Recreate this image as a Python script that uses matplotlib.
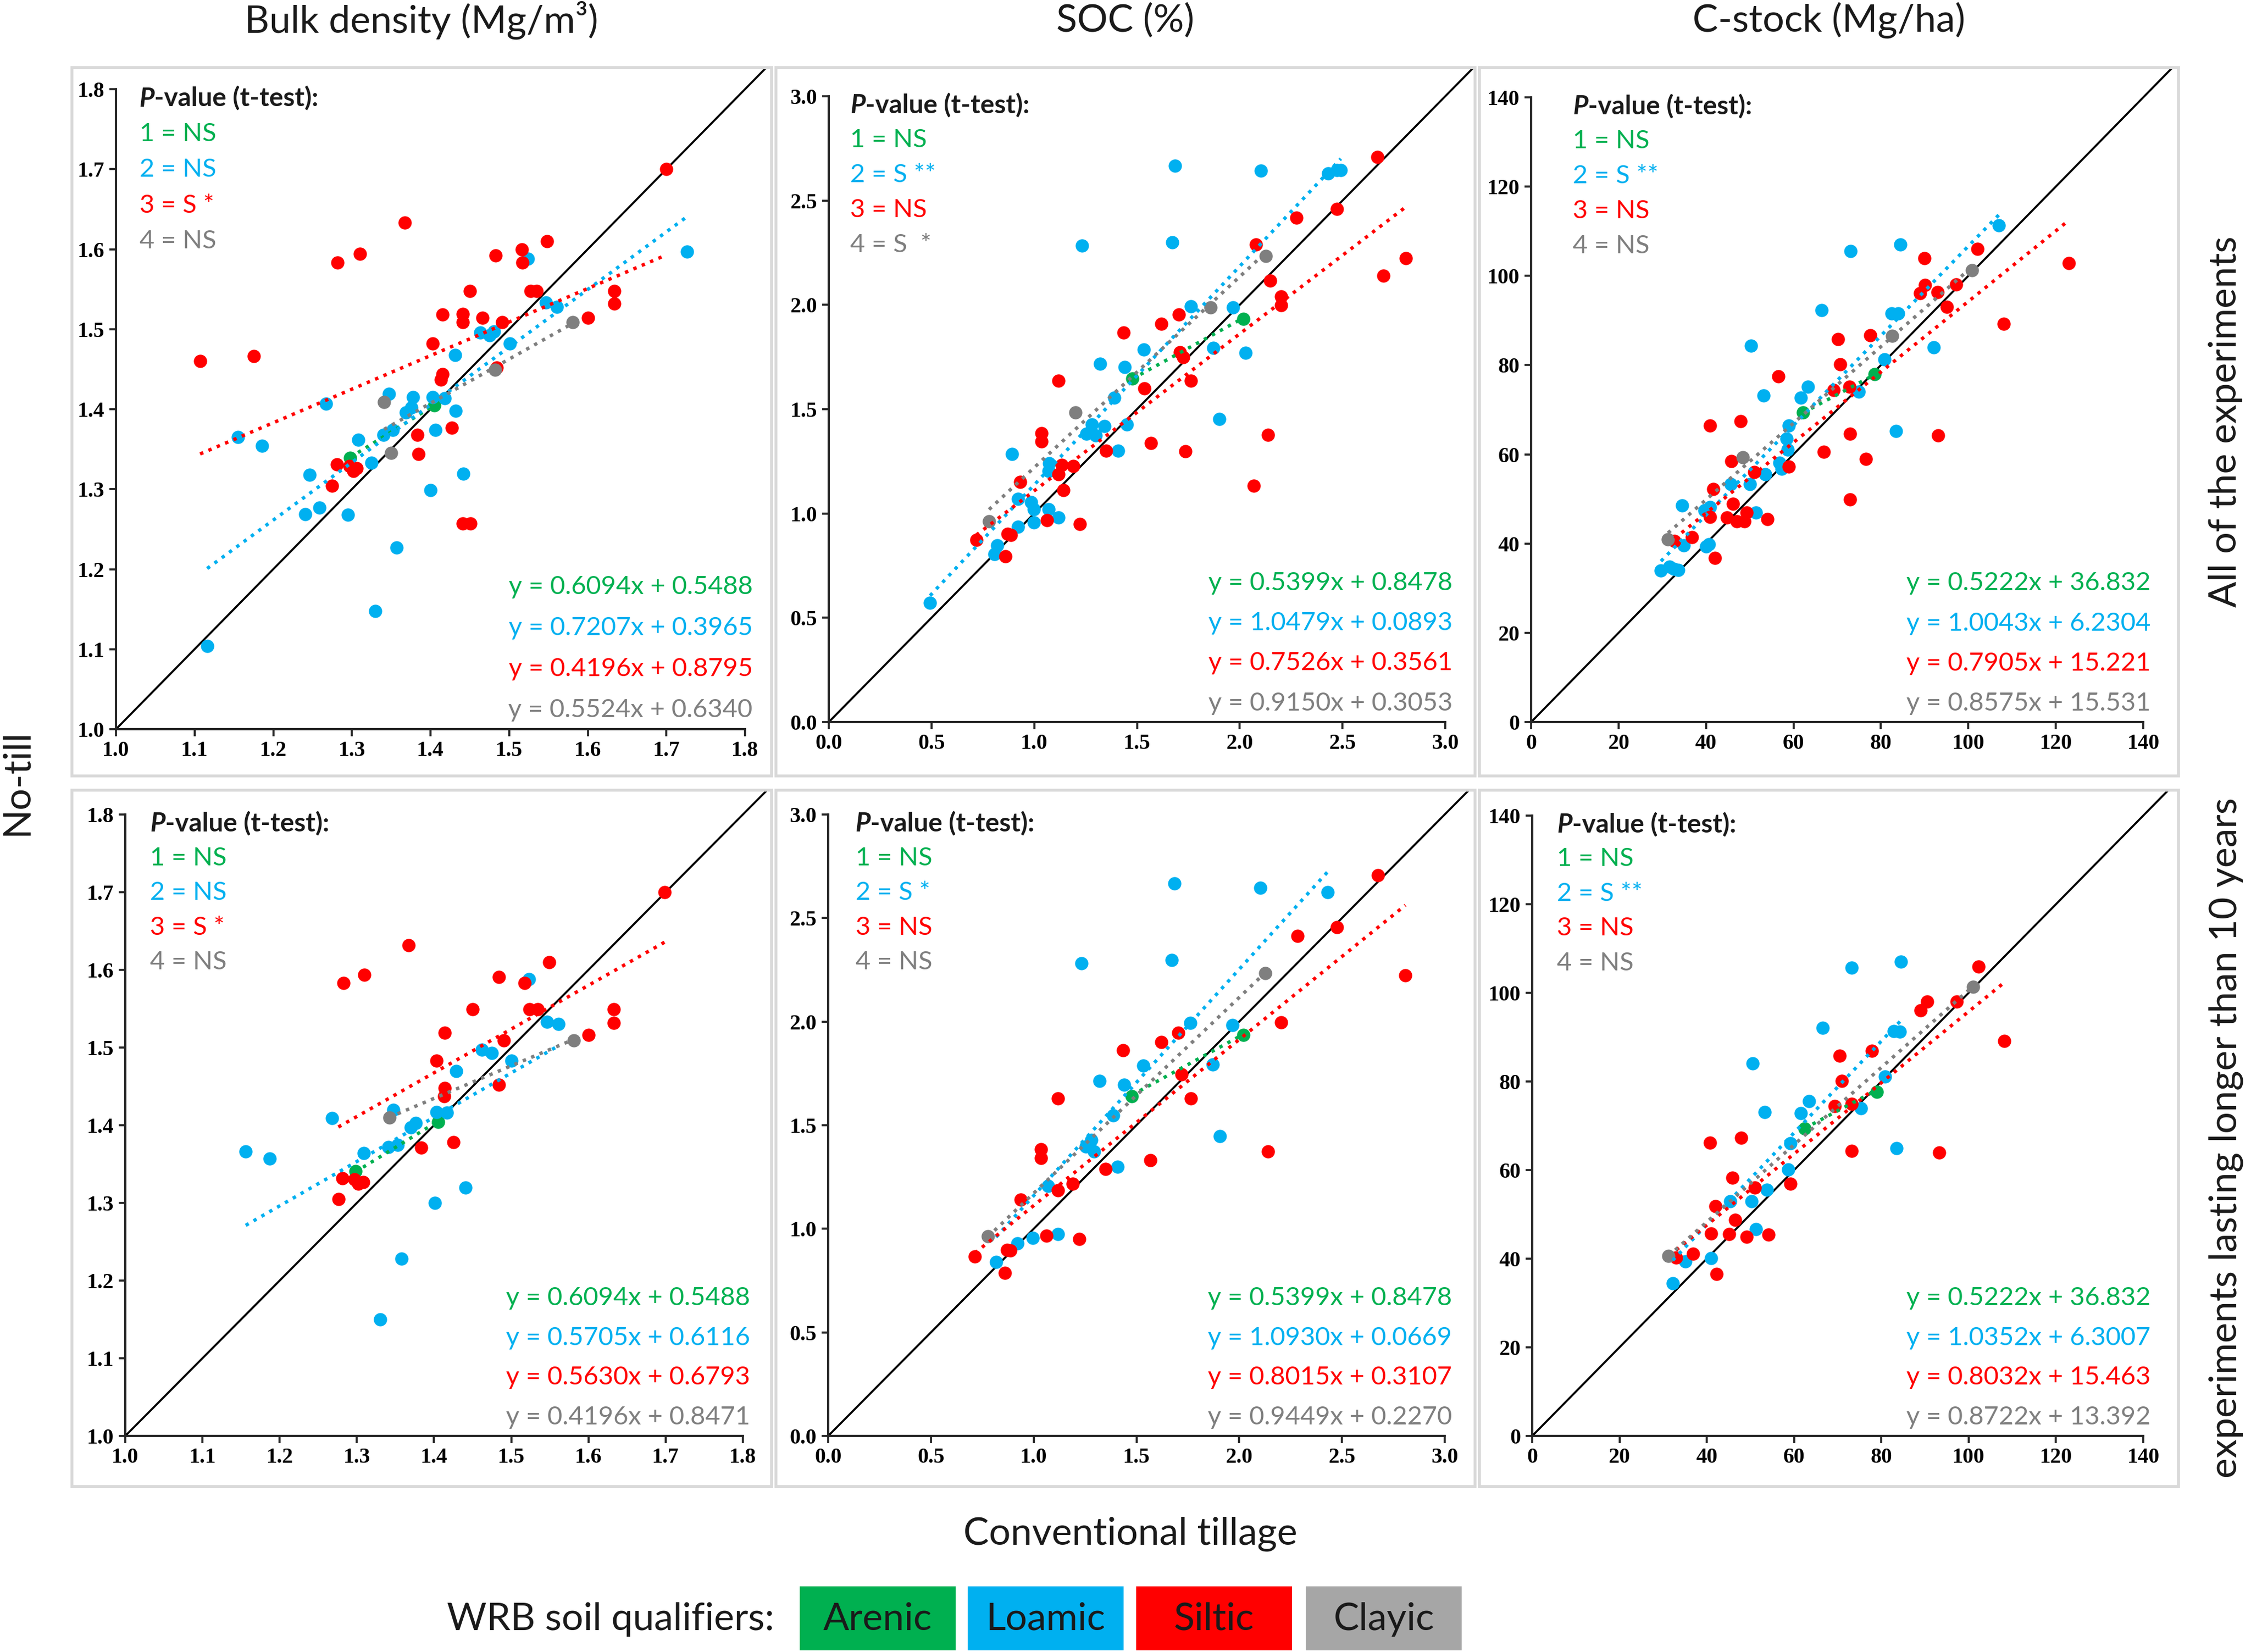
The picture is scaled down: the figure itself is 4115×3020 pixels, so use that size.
import matplotlib
matplotlib.use("Agg")
import matplotlib.pyplot as plt
from matplotlib.patches import Rectangle

W, H = 4115, 3020
DPI = 300

GROUP_COLORS = ["#00B050", "#00B0F0", "#FF0000", "#7F7F7F"]
LEGEND_COLORS = ["#00B050", "#00B0F0", "#FF0000", "#A6A6A6"]
GROUP_NAMES = ["Arenic", "Loamic", "Siltic", "Clayic"]

COL_TITLES = ["Bulk density (Mg/m³)", "SOC (%)", "C-stock (Mg/ha)"]
ROW_TITLES = ["All of the experiments", "experiments lasting longer than 10 years"]

# (conventional tillage, no-till) pairs
BD_ALL_ARENIC = [(1.298, 1.339), (1.405, 1.405)]
BD_ALL_LOAMIC = [(1.116, 1.104), (1.155, 1.365), (1.186, 1.354), (1.267, 1.407), (1.246, 1.318),
                 (1.241, 1.269), (1.259, 1.277), (1.295, 1.268), (1.308, 1.362), (1.325, 1.333),
                 (1.330, 1.148), (1.357, 1.227), (1.347, 1.419), (1.340, 1.368), (1.352, 1.374),
                 (1.369, 1.396), (1.376, 1.402), (1.378, 1.415), (1.403, 1.415), (1.418, 1.414),
                 (1.406, 1.374), (1.400, 1.299), (1.432, 1.398), (1.431, 1.468), (1.442, 1.319),
                 (1.463, 1.496), (1.475, 1.492), (1.481, 1.497), (1.501, 1.482), (1.524, 1.588),
                 (1.547, 1.533), (1.561, 1.528), (1.726, 1.597)]
BD_ALL_SILTIC = [(1.107, 1.460), (1.175, 1.466), (1.282, 1.583), (1.310, 1.594), (1.367, 1.633),
                 (1.700, 1.700), (1.516, 1.600), (1.548, 1.610), (1.483, 1.592), (1.517, 1.583),
                 (1.450, 1.548), (1.527, 1.548), (1.535, 1.548), (1.634, 1.548), (1.634, 1.532),
                 (1.600, 1.514), (1.415, 1.518), (1.441, 1.519), (1.441, 1.509), (1.466, 1.514),
                 (1.491, 1.509), (1.403, 1.482), (1.415, 1.444), (1.413, 1.437), (1.484, 1.452),
                 (1.427, 1.377), (1.383, 1.368), (1.385, 1.344), (1.281, 1.331), (1.297, 1.329),
                 (1.302, 1.323), (1.306, 1.326), (1.275, 1.304), (1.441, 1.257), (1.451, 1.257)]
BD_ALL_CLAYIC = [(1.341, 1.409), (1.350, 1.345), (1.482, 1.449), (1.581, 1.509)]

BD_LONG_ARENIC = [(1.298, 1.341), (1.405, 1.404)]
BD_LONG_LOAMIC = [(1.156, 1.366), (1.187, 1.357), (1.268, 1.409), (1.309, 1.364), (1.347, 1.420),
                  (1.341, 1.372), (1.353, 1.375), (1.370, 1.397), (1.376, 1.403), (1.403, 1.417),
                  (1.417, 1.416), (1.429, 1.470), (1.401, 1.300), (1.441, 1.320), (1.358, 1.228),
                  (1.330, 1.150), (1.462, 1.497), (1.475, 1.493), (1.500, 1.483), (1.523, 1.588),
                  (1.546, 1.533), (1.561, 1.530)]
BD_LONG_SILTIC = [(1.283, 1.583), (1.310, 1.594), (1.367, 1.632), (1.699, 1.700), (1.549, 1.610),
                  (1.484, 1.591), (1.517, 1.583), (1.450, 1.549), (1.524, 1.549), (1.534, 1.549),
                  (1.633, 1.549), (1.633, 1.532), (1.600, 1.516), (1.414, 1.519), (1.490, 1.509),
                  (1.403, 1.483), (1.414, 1.448), (1.413, 1.437), (1.484, 1.452), (1.425, 1.378),
                  (1.383, 1.371), (1.281, 1.332), (1.297, 1.330), (1.302, 1.325), (1.308, 1.327),
                  (1.276, 1.305)]
BD_LONG_CLAYIC = [(1.342, 1.410), (1.581, 1.509)]

SOC_ALL_ARENIC = [(1.478, 1.647), (2.017, 1.934)]
SOC_ALL_LOAMIC = [(0.493, 0.572), (0.806, 0.805), (0.821, 0.848), (0.893, 1.286), (0.920, 0.935),
                  (0.920, 1.071), (0.985, 1.053), (0.998, 1.021), (0.998, 0.956), (1.069, 1.021),
                  (1.119, 0.982), (1.073, 1.241), (1.069, 1.204), (1.233, 2.284), (1.320, 1.718),
                  (1.255, 1.381), (1.281, 1.427), (1.298, 1.373), (1.342, 1.420), (1.390, 1.554),
                  (1.441, 1.701), (1.452, 1.427), (1.408, 1.302), (1.533, 1.787), (1.686, 2.666),
                  (1.671, 2.299), (1.763, 1.992), (1.872, 1.794), (1.901, 1.453), (1.966, 1.988),
                  (2.028, 1.770), (2.102, 2.644), (2.430, 2.629), (2.474, 2.646), (2.492, 2.646)]
SOC_ALL_SILTIC = [(0.718, 0.874), (0.871, 0.902), (0.887, 0.898), (0.861, 0.794), (0.933, 1.150),
                  (1.036, 1.384), (1.036, 1.345), (1.062, 0.967), (1.119, 1.636), (1.117, 1.187),
                  (1.134, 1.232), (1.141, 1.112), (1.189, 1.226), (1.222, 0.950), (1.349, 1.302),
                  (1.436, 1.867), (1.535, 1.599), (1.568, 1.338), (1.618, 1.910), (1.704, 1.953),
                  (1.708, 1.772), (1.725, 1.750), (1.736, 1.297), (1.763, 1.636), (2.069, 1.133),
                  (2.080, 2.290), (2.137, 1.377), (2.148, 2.117), (2.201, 2.040), (2.201, 1.997),
                  (2.277, 2.417), (2.474, 2.461), (2.671, 2.709), (2.700, 2.139), (2.809, 2.225)]
SOC_ALL_CLAYIC = [(0.780, 0.963), (1.200, 1.485), (1.857, 1.988), (2.126, 2.234)]

SOC_LONG_ARENIC = [(1.478, 1.641), (2.021, 1.935)]
SOC_LONG_LOAMIC = [(0.817, 0.841), (0.920, 0.930), (0.996, 0.957), (1.119, 0.974), (1.069, 1.207),
                   (1.233, 2.283), (1.320, 1.713), (1.255, 1.396), (1.281, 1.428), (1.294, 1.374),
                   (1.386, 1.548), (1.441, 1.696), (1.408, 1.300), (1.533, 1.787), (1.686, 2.667),
                   (1.671, 2.298), (1.763, 1.993), (1.872, 1.793), (1.905, 1.446), (1.966, 1.983),
                   (2.102, 2.646), (2.430, 2.624)]
SOC_LONG_SILTIC = [(0.714, 0.865), (0.871, 0.898), (0.887, 0.896), (0.861, 0.787), (0.937, 1.141),
                   (1.036, 1.385), (1.036, 1.341), (1.062, 0.967), (1.119, 1.630), (1.117, 1.185),
                   (1.189, 1.217), (1.222, 0.950), (1.349, 1.289), (1.436, 1.863), (1.568, 1.330),
                   (1.622, 1.902), (1.704, 1.946), (1.719, 1.746), (1.765, 1.630), (2.141, 1.374),
                   (2.203, 1.996), (2.284, 2.413), (2.476, 2.457), (2.674, 2.707), (2.809, 2.224)]
SOC_LONG_CLAYIC = [(0.777, 0.963), (2.126, 2.233)]

C_ALL_ARENIC = [(62.2, 69.4), (78.6, 78.0)]
C_ALL_LOAMIC = [(29.7, 33.9), (31.6, 34.8), (32.6, 34.3), (33.7, 34.1), (34.5, 48.5), (34.9, 39.6),
                (40.0, 39.3), (40.6, 39.9), (39.6, 47.4), (40.9, 48.2), (45.7, 53.3), (50.3, 84.3),
                (50.1, 53.3), (51.4, 46.9), (53.2, 73.2), (53.5, 55.5), (56.8, 58.1), (57.3, 56.8),
                (58.4, 63.5), (58.7, 61.1), (58.9, 66.4), (61.7, 72.7), (63.3, 75.2), (66.4, 92.3),
                (73.1, 105.5), (75.0, 74.1), (80.8, 81.3), (82.4, 91.6), (83.9, 91.6), (83.4, 65.2),
                (84.4, 107.0), (92.1, 84.0), (107.0, 111.3)]
C_ALL_SILTIC = [(32.8, 40.6), (36.8, 41.4), (40.9, 66.4), (40.9, 46.0), (41.6, 52.2), (42.1, 36.8),
                (44.8, 45.9), (45.8, 58.5), (46.2, 48.9), (47.0, 45.0), (47.9, 67.4), (48.8, 45.0),
                (49.3, 46.9), (51.0, 56.0), (54.0, 45.5), (56.6, 77.5), (58.9, 57.3), (66.9, 60.5),
                (69.2, 74.4), (70.2, 85.8), (70.7, 80.2), (72.8, 75.2), (73.0, 64.6), (73.0, 49.9),
                (76.6, 59.0), (77.6, 86.7), (89.0, 96.1), (90.0, 103.9), (90.1, 98.0), (92.9, 96.3),
                (93.1, 64.2), (95.1, 93.1), (97.2, 98.1), (102.1, 106.0), (108.1, 89.3), (123.0, 102.9)]
C_ALL_CLAYIC = [(31.3, 41.0), (48.4, 59.3), (82.6, 86.5), (100.8, 101.2)]

C_LONG_ARENIC = [(62.4, 69.4), (78.9, 77.7)]
C_LONG_LOAMIC = [(32.2, 34.5), (35.1, 39.4), (41.0, 40.1), (45.4, 53.0), (50.2, 53.0), (51.3, 46.7),
                 (50.5, 84.1), (53.3, 73.1), (53.8, 55.6), (58.6, 60.1), (59.1, 66.0), (61.6, 72.8),
                 (63.4, 75.5), (66.5, 92.1), (73.2, 105.7), (75.3, 73.9), (80.9, 81.1), (82.8, 91.4),
                 (84.2, 91.2), (83.5, 65.0), (84.5, 107.0)]
C_LONG_SILTIC = [(33.0, 40.3), (36.8, 41.1), (40.7, 66.2), (41.0, 45.7), (42.0, 51.8), (42.3, 36.6),
                 (45.1, 45.5), (45.9, 58.3), (46.5, 48.8), (47.9, 67.3), (49.1, 45.0), (51.0, 56.1),
                 (54.2, 45.4), (59.1, 56.9), (69.3, 74.4), (70.4, 85.8), (70.9, 80.1), (73.2, 64.3),
                 (73.2, 74.9), (77.8, 86.9), (89.0, 96.0), (90.5, 98.0), (93.3, 64.0), (97.2, 98.0),
                 (102.3, 105.9), (108.2, 89.1)]
C_LONG_CLAYIC = [(31.2, 40.6), (101.0, 101.3)]

# regression lines (slope, intercept) as printed in the panels
BD_ALL_FITS = [("0.6094", "0.5488"), ("0.7207", "0.3965"), ("0.4196", "0.8795"), ("0.5524", "0.6340")]
SOC_ALL_FITS = [("0.5399", "0.8478"), ("1.0479", "0.0893"), ("0.7526", "0.3561"), ("0.9150", "0.3053")]
C_ALL_FITS = [("0.5222", "36.832"), ("1.0043", "6.2304"), ("0.7905", "15.221"), ("0.8575", "15.531")]
BD_LONG_FITS = [("0.6094", "0.5488"), ("0.5705", "0.6116"), ("0.5630", "0.6793"), ("0.4196", "0.8471")]
SOC_LONG_FITS = [("0.5399", "0.8478"), ("1.0930", "0.0669"), ("0.8015", "0.3107"), ("0.9449", "0.2270")]
C_LONG_FITS = [("0.5222", "36.832"), ("1.0352", "6.3007"), ("0.8032", "15.463"), ("0.8722", "13.392")]

BD_ALL_PVALS = ["NS", "NS", "S *", "NS"]
SOC_ALL_PVALS = ["NS", "S **", "NS", "S  *"]
C_ALL_PVALS = ["NS", "S **", "NS", "NS"]
BD_LONG_PVALS = ["NS", "NS", "S *", "NS"]
SOC_LONG_PVALS = ["NS", "S *", "NS", "NS"]
C_LONG_PVALS = ["NS", "S **", "NS", "NS"]

BD_TICKS = [1.0, 1.1, 1.2, 1.3, 1.4, 1.5, 1.6, 1.7, 1.8]
SOC_TICKS = [0.0, 0.5, 1.0, 1.5, 2.0, 2.5, 3.0]
C_TICKS = [0, 20, 40, 60, 80, 100, 120, 140]

plt.rcParams["font.family"] = ["Lato", "DejaVu Sans"]
TEXT_COLOR = "#1A1A1A"
BIG = 16.8


def fig_rect(x0, y0, x1, y1):
    # pixel box (top-left origin) -> figure fraction [left, bottom, width, height]
    return [x0 / W, 1 - y1 / H, (x1 - x0) / W, (y1 - y0) / H]


def draw_panel(fig, ax_px, box_px, groups, fits, pvals, ticks, fmt, ptext_x):
    l, b, w, h = fig_rect(*box_px)
    box = Rectangle((l, b), w, h, transform=fig.transFigure, fill=False,
                    edgecolor="#D9D9D9", linewidth=1.3)
    fig.add_artist(box)

    ax = fig.add_axes(fig_rect(*ax_px))
    lo, hi = ticks[0], ticks[-1]
    ax.set_xlim(lo, hi)
    ax.set_ylim(lo, hi)

    diag, = ax.plot([lo, hi + (hi - lo)], [lo, hi + (hi - lo)], color="black", lw=0.9, zorder=2)
    diag.set_clip_path(box)

    for pts, color in zip(groups, GROUP_COLORS):
        ax.scatter([p[0] for p in pts], [p[1] for p in pts], s=34, color=color,
                   linewidths=0, zorder=3, clip_on=False)

    for pts, (a, b), color in zip(groups, fits, GROUP_COLORS):
        xs = [p[0] for p in pts]
        x0, x1 = min(xs), max(xs)
        ax.plot([x0, x1], [float(a) * x0 + float(b), float(a) * x1 + float(b)],
                linestyle=":", lw=1.5, color=color, zorder=4)

    for side in ["top", "right"]:
        ax.spines[side].set_visible(False)
    for side in ["left", "bottom"]:
        ax.spines[side].set_color("#262626")
        ax.spines[side].set_linewidth(1.0)
    ax.tick_params(direction="out", length=3, width=0.9, color="#262626", pad=2)
    labels = [fmt.format(t) for t in ticks]
    ax.set_xticks(ticks)
    ax.set_yticks(ticks)
    ax.set_xticklabels(labels, fontfamily="Liberation Serif", fontweight="bold", fontsize=9.5)
    ax.set_yticklabels(labels, fontfamily="Liberation Serif", fontweight="bold", fontsize=9.5)

    # P-value block
    t = ax.text(ptext_x, 0.985, "P", transform=ax.transAxes, fontsize=11.5,
                fontweight="bold", fontstyle="italic", va="center", ha="left", color=TEXT_COLOR)
    ax.annotate("-value (t-test):", xy=(1, 0), xycoords=t, va="bottom", ha="left",
                fontsize=11.5, fontweight="bold", color=TEXT_COLOR)
    for i, (pv, color) in enumerate(zip(pvals, GROUP_COLORS)):
        ax.text(ptext_x, 0.93 - i * 0.056, f"{i + 1} = {pv}", transform=ax.transAxes,
                fontsize=11.3, color=color, va="center", ha="left")

    # regression equations
    for i, ((a, b), color) in enumerate(zip(fits, GROUP_COLORS)):
        ax.text(1.012, 0.222 - i * 0.064, f"y = {a}x + {b}", transform=ax.transAxes,
                fontsize=11.3, color=color, va="center", ha="right")
    return ax


def main():
    fig = plt.figure(figsize=(W / DPI, H / DPI), dpi=DPI)

    ax_px = [[(212, 163, 1362, 1333), (1515, 176, 2642, 1320), (2799, 178, 3918, 1320)],
             [(229, 1489, 1358, 2625), (1514, 1489, 2641, 2625), (2801, 1491, 3918, 2625)]]
    box_x = [(131, 1410), (1418, 2696), (2704, 3982)]
    box_y = [(123, 1418), (1444, 2717)]
    ptext_x = [[0.037, 0.035, 0.068], [0.040, 0.044, 0.040]]

    groups = [[[BD_ALL_ARENIC, BD_ALL_LOAMIC, BD_ALL_SILTIC, BD_ALL_CLAYIC],
               [SOC_ALL_ARENIC, SOC_ALL_LOAMIC, SOC_ALL_SILTIC, SOC_ALL_CLAYIC],
               [C_ALL_ARENIC, C_ALL_LOAMIC, C_ALL_SILTIC, C_ALL_CLAYIC]],
              [[BD_LONG_ARENIC, BD_LONG_LOAMIC, BD_LONG_SILTIC, BD_LONG_CLAYIC],
               [SOC_LONG_ARENIC, SOC_LONG_LOAMIC, SOC_LONG_SILTIC, SOC_LONG_CLAYIC],
               [C_LONG_ARENIC, C_LONG_LOAMIC, C_LONG_SILTIC, C_LONG_CLAYIC]]]
    fits = [[BD_ALL_FITS, SOC_ALL_FITS, C_ALL_FITS], [BD_LONG_FITS, SOC_LONG_FITS, C_LONG_FITS]]
    pvals = [[BD_ALL_PVALS, SOC_ALL_PVALS, C_ALL_PVALS], [BD_LONG_PVALS, SOC_LONG_PVALS, C_LONG_PVALS]]
    ticks = [BD_TICKS, SOC_TICKS, C_TICKS]
    fmts = ["{:.1f}", "{:.1f}", "{:.0f}"]

    for r in range(2):
        for c in range(3):
            box_px = (box_x[c][0], box_y[r][0], box_x[c][1], box_y[r][1])
            draw_panel(fig, ax_px[r][c], box_px, groups[r][c], fits[r][c], pvals[r][c],
                       ticks[c], fmts[c], ptext_x[r][c])

    # outer labels
    for c, title in enumerate(COL_TITLES):
        cx = (box_x[c][0] + box_x[c][1]) / 2
        fig.text(cx / W, 1 - 37 / H, title, ha="center", va="center", fontsize=BIG, color=TEXT_COLOR)
    for r, title in enumerate(ROW_TITLES):
        cy = (box_y[r][0] + box_y[r][1]) / 2
        fig.text(4069 / W, 1 - cy / H, title, ha="center", va="center", rotation=90,
                 fontsize=BIG, color=TEXT_COLOR)
    fig.text(31 / W, 1 - 1430 / H, "No-till", ha="center", va="center", rotation=90,
             fontsize=BIG, color=TEXT_COLOR)
    fig.text(2066 / W, 1 - 2804 / H, "Conventional tillage", ha="center", va="center",
             fontsize=BIG, color=TEXT_COLOR)

    # soil qualifier legend
    fig.text(1415 / W, 1 - 2960 / H, "WRB soil qualifiers:", ha="right", va="center",
             fontsize=BIG, color=TEXT_COLOR)
    legend_x = [1462, 1769, 2077, 2387]
    for x0, name, color in zip(legend_x, GROUP_NAMES, LEGEND_COLORS):
        fig.add_artist(Rectangle(fig_rect(x0, 2900, x0 + 285, 3017)[:2], 285 / W, 117 / H,
                                 transform=fig.transFigure, facecolor=color, edgecolor="none"))
        fig.text((x0 + 142.5) / W, 1 - 2960 / H, name, ha="center", va="center",
                 fontsize=BIG, color=TEXT_COLOR)

    fig.savefig("out.png", dpi=DPI)
    plt.close(fig)


if __name__ == "__main__":
    main()
